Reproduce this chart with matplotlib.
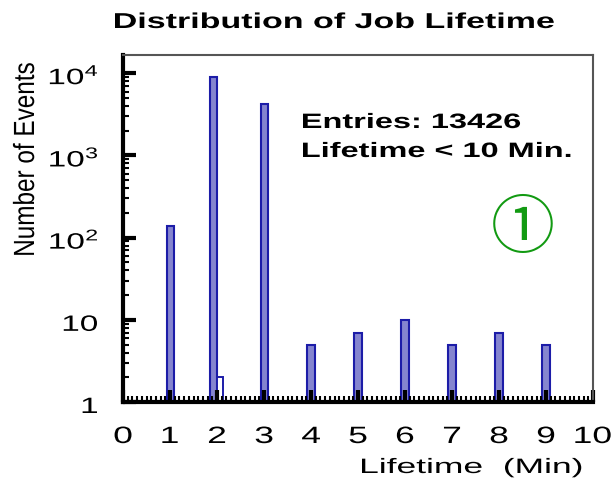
import numpy as np
import matplotlib
matplotlib.use('Agg')
import matplotlib.pyplot as plt
from matplotlib.ticker import FixedLocator, MultipleLocator, LogLocator, NullFormatter
from matplotlib.textpath import TextPath
from matplotlib.font_manager import FontProperties
from matplotlib.patches import PathPatch
from matplotlib.transforms import Affine2D

# data
lifetimes = [1, 1.93, 3, 4, 5, 6, 7, 8, 9]
counts = [140, 9000, 4245, 5, 7, 10, 5, 7, 5]
open_lifetimes = [2.07]
open_counts = [2]
entries = 13426

yticks = [1, 10, 100, 1000, 10000]
ytick_labels = ['1', '10', r'$10^2$', r'$10^3$', r'$10^4$']
xticks = list(range(0, 11))

plt.rcParams['font.family'] = ['Liberation Sans', 'DejaVu Sans']
plt.rcParams['mathtext.fontset'] = 'custom'
plt.rcParams['mathtext.rm'] = 'Liberation Sans'
plt.rcParams['mathtext.it'] = 'Liberation Sans'

W, H = 613, 483
fig = plt.figure(figsize=(W / 100, H / 100), dpi=100)
ax = fig.add_axes([0.2007, 0.1677, 0.7667, 0.7184])


def wide_text(x, y, s, size, stretch=1.56, weight='normal', ha='left',
              rotation=0, color='black', family='Liberation Sans'):
    # the reference text is stretched sideways, so draw it as a scaled path
    # x, y: pixel position from the top-left corner, y is the baseline
    tp = TextPath((0, 0), s, size=size,
                  prop=FontProperties(family=family, weight=weight))
    ext = tp.get_extents()
    if ha == 'center':
        x0 = (ext.x0 + ext.x1) / 2
    elif ha == 'right':
        x0 = ext.x1
    else:
        x0 = ext.x0
    k = fig.dpi / 72
    if rotation:
        sa, sc = 1.0, stretch
    else:
        sa, sc = stretch, 1.0
    tr = (Affine2D().translate(-x0, 0).scale(sa * k, sc * k)
          .rotate_deg(rotation).translate(x, H - y))
    fig.add_artist(PathPatch(tp, transform=tr, facecolor=color,
                             edgecolor='none', lw=0))


ax.bar(lifetimes, counts, width=0.15, bottom=0.001, color='#8585cf',
       edgecolor='#1c1ca8', linewidth=1.5)
ax.bar(open_lifetimes, open_counts, width=0.12, bottom=0.001, color='white',
       edgecolor='#1c1ca8', linewidth=1.4)

ax.set_yscale('log')
ax.set_xlim(0, 10)
ax.set_ylim(1, 16700)

ax.xaxis.set_major_locator(FixedLocator(xticks))
ax.xaxis.set_minor_locator(MultipleLocator(0.1))
ax.yaxis.set_major_locator(FixedLocator(yticks))
ax.yaxis.set_minor_locator(LogLocator(base=10, subs=np.arange(2, 10)))
ax.yaxis.set_minor_formatter(NullFormatter())
ax.set_xticklabels([])
ax.set_yticklabels([])

ax.tick_params(which='major', direction='in', length=9, width=3,
               top=False, right=False, colors='black')
ax.tick_params(which='minor', direction='in', length=4, width=1.5,
               top=False, right=False)

for side in ['left', 'bottom']:
    ax.spines[side].set_linewidth(3)
    ax.spines[side].set_color('black')
for side in ['top', 'right']:
    ax.spines[side].set_linewidth(1.5)
    ax.spines[side].set_color('#555555')

# tick labels
for xv in xticks:
    px = ax.transData.transform((xv, 1))[0]
    wide_text(px, 443, str(xv), 17, stretch=1.5, ha='center')
for yv, lab in zip(yticks, ytick_labels):
    py = H - ax.transData.transform((1, yv))[1]
    wide_text(97, py + 11, lab, 16, stretch=1.5, ha='right')

# axis labels, title, annotations
wide_text(34, 159, 'Number of Events', 17.5, stretch=1.2, ha='center', rotation=90)
wide_text(362, 473, 'Lifetime  (Min)', 15, stretch=1.7)
wide_text(115, 28, 'Distribution of Job Lifetime', 15.5, stretch=1.58, weight='bold')

wide_text(303, 128, f'Entries: {entries}', 15, stretch=1.56, weight='bold')
wide_text(303, 157, 'Lifetime < 10 Min.', 15, stretch=1.56, weight='bold')

fig.text(523 / W, 1 - 222 / H, '\u2460', fontsize=46, color='#129a12',
         ha='center', va='center_baseline', family=['Noto Sans CJK JP', 'DejaVu Sans'])

fig.savefig('out.png', dpi=100)
